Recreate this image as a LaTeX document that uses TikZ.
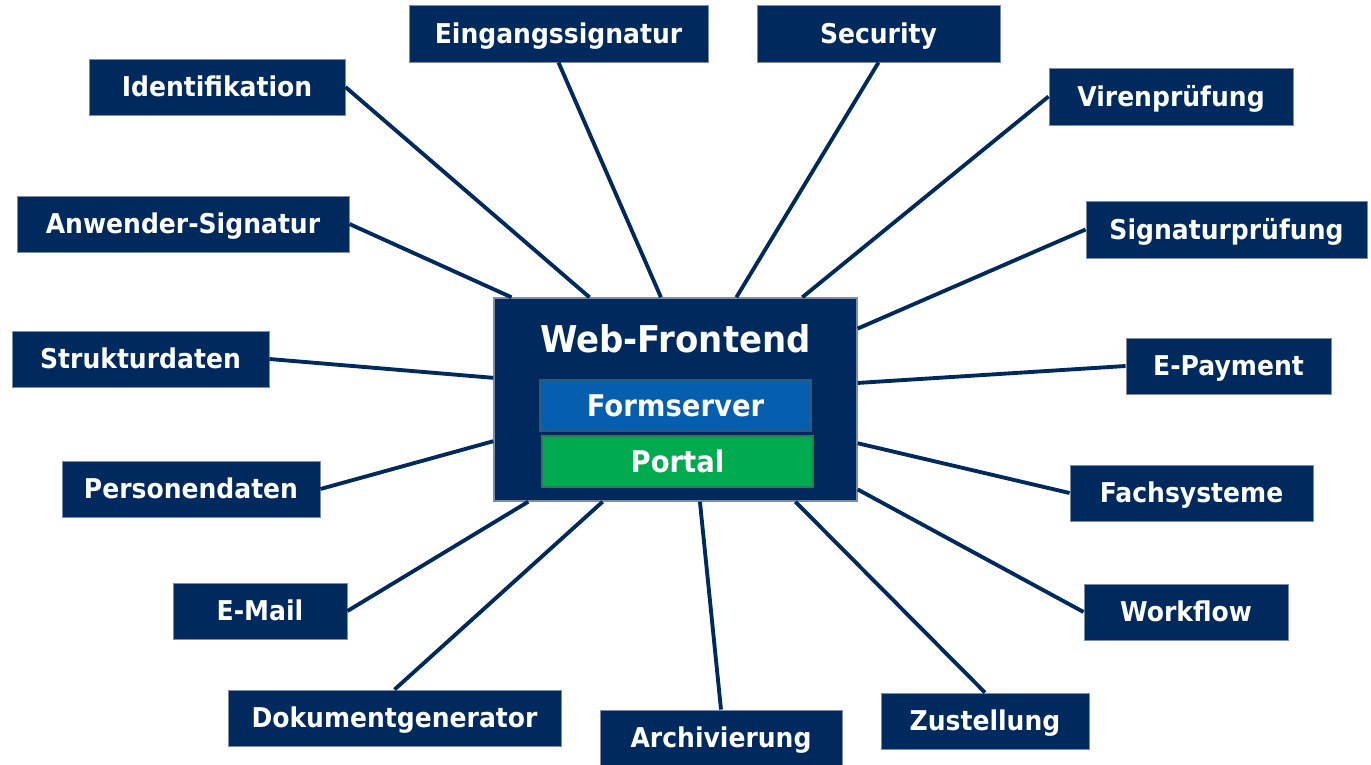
\documentclass[tikz,border=0pt]{standalone}
\usepackage{fontspec}
\setmainfont{DejaVu Sans}
\newfontfamily\labfont{DejaVu Sans}[FakeStretch=0.92]
\usetikzlibrary{calc,shadows}
\definecolor{navy}{HTML}{002A5E}
\definecolor{edgec}{HTML}{7F8CA6}
\definecolor{fblue}{HTML}{065EAE}
\definecolor{fblueb}{HTML}{2A5A80}
\definecolor{pgreen}{HTML}{00AA4E}
\definecolor{pgreenb}{HTML}{2C7A50}
\tikzset{
  sz/.style 2 args={minimum width=#1*0.02cm, minimum height=#2*0.02cm},
  lbox/.style={fill=navy, draw=edgec, line width=0.5pt, text=white, inner sep=0pt,
    text height=11.3pt, text depth=0pt,
    font=\labfont\bfseries\fontsize{15.5}{18}\selectfont},
  conn/.style={draw=navy, line width=2.2pt},
  inner/.style={inner sep=0pt, text=white, line width=0.6pt,
    text height=12.4pt, text depth=0pt,
    font=\labfont\bfseries\fontsize{17}{20}\selectfont,
    drop shadow={shadow xshift=0.6pt, shadow yshift=-0.8pt, opacity=0.35}}
}
\begin{document}
\begin{tikzpicture}[x=0.02cm,y=-0.02cm]
\useasboundingbox (0,0) rectangle (1371,764);
% central box
\node[fill=navy, draw=edgec, line width=0.8pt, inner sep=0pt, sz={363}{203}] (wf) at (675.5,399.5) {};
\node[text=white, inner sep=0pt, text height=15.3pt, text depth=0pt, font=\labfont\bfseries\fontsize{21}{24}\selectfont] (title) at (675.5,339) {Web-Frontend};
\node[inner, fill=fblue, draw=fblueb, sz={271}{51}] (form) at (675.5,405.5) {Formserver};
\node[inner, fill=pgreen, draw=pgreenb, sz={271}{51}] (portal) at (677.5,461.5) {Portal};
% outer boxes
\node[lbox, sz={256}{56}] (idf) at (217,87) {Identifikation};
\node[lbox, sz={299}{57}] (eing) at (558.5,33.5) {Eingangssignatur};
\node[lbox, sz={243}{57}] (sec) at (878.5,33.5) {Security};
\node[lbox, sz={244}{57}] (vir) at (1171,96.5) {Virenprüfung};
\node[lbox, sz={332}{56}] (anw) at (183,224) {Anwender-Signatur};
\node[lbox, sz={281}{57}] (sigp) at (1226.5,229.5) {Signaturprüfung};
\node[lbox, sz={257}{56}] (struk) at (140.5,359) {Strukturdaten};
\node[lbox, sz={205}{56}] (epay) at (1228.5,366) {E-Payment};
\node[lbox, sz={258}{56}] (pers) at (191,489) {Personendaten};
\node[lbox, sz={243}{56}] (fach) at (1191.5,493) {Fachsysteme};
\node[lbox, sz={174}{56}] (mail) at (260,611) {E-Mail};
\node[lbox, sz={204}{56}] (work) at (1186,612) {Workflow};
\node[lbox, sz={333}{56}] (dok) at (394.5,718) {Dokumentgenerator};
\node[lbox, sz={242}{56}] (arch) at (721,738) {Archivierung};
\node[lbox, sz={208}{56}] (zust) at (985,721) {Zustellung};
% connectors
\draw[conn] (idf.east) -- ($(wf.north west)!0.264!(wf.north east)$);
\draw[conn] (eing.south) -- ($(wf.north west)!0.46!(wf.north east)$);
\draw[conn] (sec.south) -- ($(wf.north west)!0.667!(wf.north east)$);
\draw[conn] (vir.west) -- ($(wf.north west)!0.848!(wf.north east)$);
\draw[conn] (anw.east) -- ($(wf.north west)!0.05!(wf.north east)$);
\draw[conn] (sigp.west) -- ($(wf.north east)!0.153!(wf.south east)$);
\draw[conn] (struk.east) -- ($(wf.north west)!0.394!(wf.south west)$);
\draw[conn] (epay.west) -- ($(wf.north east)!0.419!(wf.south east)$);
\draw[conn] (pers.east) -- ($(wf.north west)!0.704!(wf.south west)$);
\draw[conn] (fach.west) -- ($(wf.north east)!0.714!(wf.south east)$);
\draw[conn] (mail.east) -- ($(wf.south west)!0.096!(wf.south east)$);
\draw[conn] (work.west) -- ($(wf.north east)!0.94!(wf.south east)$);
\draw[conn] (dok.north) -- ($(wf.south west)!0.30!(wf.south east)$);
\draw[conn] (arch.north) -- ($(wf.south west)!0.567!(wf.south east)$);
\draw[conn] (zust.north) -- ($(wf.south west)!0.829!(wf.south east)$);
\end{tikzpicture}
\end{document}
